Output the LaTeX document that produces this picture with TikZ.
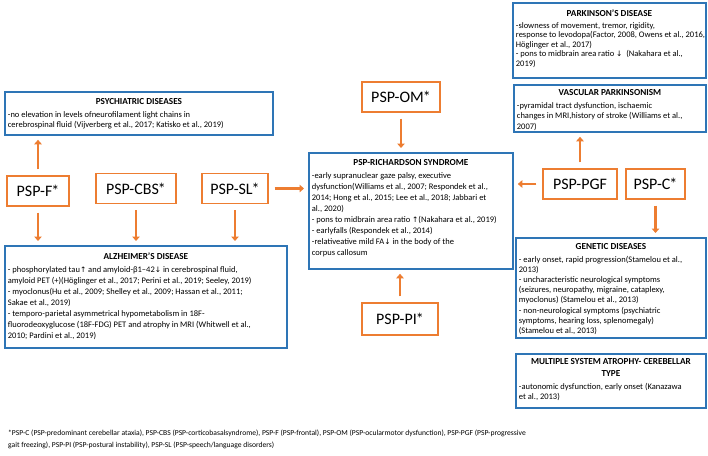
\documentclass[tikz,border=0pt]{standalone}
\usepackage{fontspec}
\setmainfont{Carlito}
\newfontfamily\arw{DejaVu Sans}
\usetikzlibrary{arrows.meta}
\definecolor{myorange}{HTML}{ED7D31}
\definecolor{myblue}{HTML}{2E75B6}
\newcommand\uarr{{\arw\fontsize{7.5}{8}\selectfont ↑}}
\newcommand\darr{{\arw\fontsize{7.5}{8}\selectfont ↓}}
\newcommand\ttl{\fontsize{9.2}{11}\selectfont\bfseries}
% #1 name, #2 x, #3 y, #4 width, #5 height, #6 title, #7 body lines, #8 line spacing, #9 top pad
\newcommand\infobox[9]{%
  \node[bbox] (#1) at (#2,#3) {\parbox[t][\dimexpr#5pt-6pt\relax][t]{\dimexpr#4pt-6pt\relax}{%
    \vspace*{#9pt}\centering{\ttl #6}\par\vspace{2pt}\raggedright\fontsize{8.5}{#8}\selectfont
    \begin{tabular}[t]{@{}l@{}}#7\end{tabular}\par}};}
\newcommand\st{\kern-1pt*}
\tikzset{
  bbox/.style={draw=myblue, line width=1.8pt, anchor=north west, inner xsep=3pt, inner ysep=3pt},
  pbox/.style={draw=myorange, line width=1.3pt, minimum height=30pt, inner sep=0pt, font=\fontsize{16}{18}\selectfont},
  arr/.style={draw=myorange, line width=2.6pt, -{Triangle[length=4.5pt,width=7.5pt]}, shorten <=6pt, shorten >=4pt}
}
\begin{document}
\begin{tikzpicture}[x=1pt,y=-1pt]
\fill[white] (0,0) rectangle (708,455);
\useasboundingbox (0,0) rectangle (708,455);

\infobox{psy}{4}{91}{268}{43}{PSYCHIATRIC DISEASES}{-no elevation in levels ofneurofilament light chains in\\ cerebrospinal fluid (Vijverberg et al., 2017; Katisko et al., 2019)}{10.5}{4}

\infobox{alz}{4}{245}{282}{102}{ALZHEIMER’S DISEASE}{- phosphorylated tau\uarr\ and amyloid-β1–42\darr\ in cerebrospinal fluid,\\ amyloid PET (+)(Höglinger et al., 2017; Perini et al., 2019; Seeley, 2019)\\ - myoclonus(Hu et al., 2009; Shelley et al., 2009; Hassan et al., 2011;\\ Sakae et al., 2019)\\ - temporo-parietal asymmetrical hypometabolism in 18F-\\ fluorodeoxyglucose (18F-FDG) PET and atrophy in MRI (Whitwell et al.,\\ 2010; Pardini et al., 2019)}{11}{4}

\infobox{rs}{308}{152}{204}{116}{PSP-RICHARDSON SYNDROME}{-early supranuclear gaze palsy, executive\\ dysfunction(Williams et al., 2007; Respondek et al.,\\ 2014; Hong et al., 2015; Lee et al., 2018; Jabbari et\\ al., 2020)\\ - pons to midbrain area ratio \uarr(Nakahara et al., 2019)\\ - earlyfalls (Respondek et al., 2014)\\ -relativeative mild FA\darr\ in the body of the\\ corpus callosum}{11}{4}

\infobox{pd}{512}{2}{193}{75}{PARKINSON’S DISEASE}{-slowness of movement, tremor, rigidity,\\ response to levodopa(Factor, 2008, Owens et al., 2016,\\ Höglinger et al., 2017)\\ - pons to midbrain area ratio \darr\ \ (Nakahara et al.,\\ 2019)}{9.6}{4}

\infobox{vp}{513}{84}{192}{47}{VASCULAR PARKINSONISM}{-pyramidal tract dysfunction, ischaemic\\ changes in MRI,history of stroke (Williams et al.,\\ 2007)}{10.5}{2}

\infobox{gd}{515}{237}{190}{100}{GENETIC DISEASES}{- early onset, rapid progression(Stamelou et al.,\\ 2013)\\ - uncharacteristic neurological symptoms\\ (seizures, neuropathy, migraine, cataplexy,\\ myoclonus) (Stamelou et al., 2013)\\ - non-neurological symptoms (psychiatric\\ symptoms, hearing loss, splenomegaly)\\ (Stamelou et al., 2013)}{10.2}{3}

\infobox{msa}{515}{353}{190}{54}{MULTIPLE SYSTEM ATROPHY- CEREBELLAR\\ TYPE}{-autonomic dysfunction, early onset (Kanazawa\\ et al., 2013)}{10.2}{2}

\node[pbox, minimum width=62pt] (f) at (38,191) {PSP-F\st};
\node[pbox, minimum width=80pt] (cbs) at (136,188.5) {PSP-CBS\st};
\node[pbox, minimum width=66pt] (sl) at (235,188.5) {PSP-SL\st};
\node[pbox, minimum width=78pt] (om) at (401,97) {PSP-OM\st};
\node[pbox, minimum width=76pt, minimum height=32pt] (pi) at (400,319) {PSP-PI\st};
\node[pbox, minimum width=74pt] (pgf) at (580,184) {PSP-PGF};
\node[pbox, minimum width=59pt] (c) at (655.5,184) {PSP-C\st};

\draw[arr] (f.north) -- (f.north |- psy.south);
\draw[arr] (f.south) -- (f.south |- alz.north);
\draw[arr] (cbs.south) -- (cbs.south |- alz.north);
\draw[arr] (sl.south) -- (sl.south |- alz.north);
\draw[arr] (sl.east) -- (sl.east -| rs.west);
\draw[arr] (om.south) -- (om.south |- rs.north);
\draw[arr] (pi.north) -- (pi.north |- rs.south);
\draw[arr] (pgf.west) -- (pgf.west -| rs.east);
\draw[arr] (pgf.north) -- (pgf.north |- vp.south);
\draw[arr] (c.south) -- (c.south |- gd.north);

\node[anchor=north west, inner sep=0pt, align=left, font=\fontsize{7.6}{12}\selectfont] (fn) at (8,430) {*PSP-C (PSP-predominant cerebellar ataxia), PSP-CBS (PSP-corticobasalsyndrome), PSP-F (PSP-frontal), PSP-OM (PSP-ocularmotor dysfunction), PSP-PGF (PSP-progressive\\ gait freezing), PSP-PI (PSP-postural instability), PSP-SL (PSP-speech/language disorders)};
\end{tikzpicture}
\end{document}
